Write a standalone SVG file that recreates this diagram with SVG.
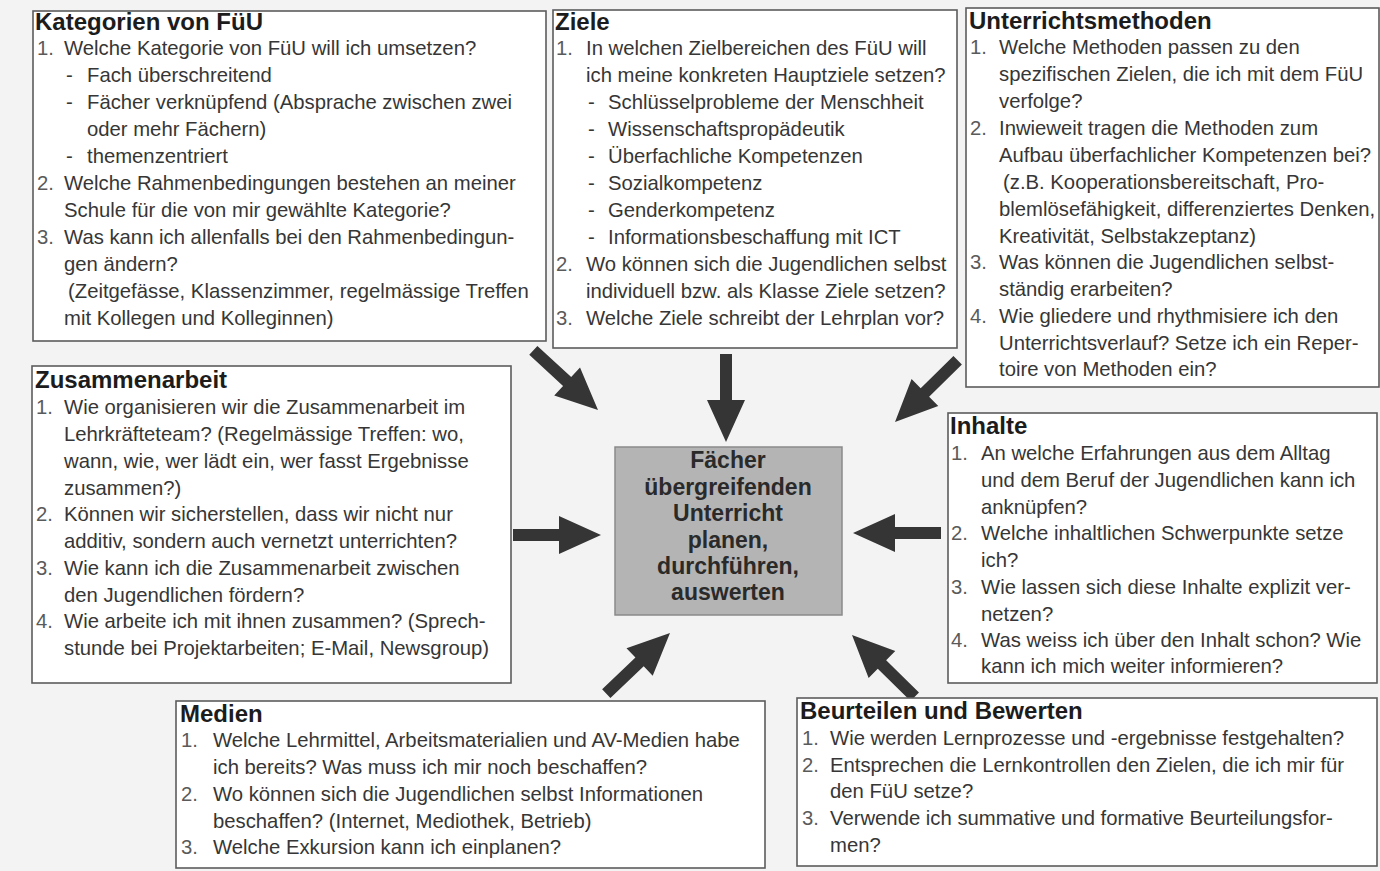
<svg xmlns="http://www.w3.org/2000/svg" width="1380" height="871" viewBox="0 0 1380 871">
  <style>
    text { font-family: "Liberation Sans", Arial, Helvetica, sans-serif; }
    .box { fill: #ffffff; stroke: #5c5c5c; stroke-width: 1.6; }
    .hub { fill: #b4b4b4; stroke: #8a8a8a; stroke-width: 1.5; }
    .h { font-size: 24px; font-weight: bold; fill: #1c1c1c; }
    .t { font-size: 20.3px; fill: #363636; }
    .n { font-size: 20.3px; fill: #5a5a5a; }
    .c { font-size: 23px; font-weight: bold; fill: #2a2a2a; text-anchor: middle; }
    .arrow { fill: #353535; }
  </style>
  <defs>
    <!-- block arrow pointing along +x, tip at the origin -->
    <path id="blockArrow" d="M -88 -6 L -42 -6 L -42 -19 L 0 0 L -42 19 L -42 6 L -88 6 Z"/>
  </defs>

  <rect x="0" y="0" width="1380" height="871" fill="#f3f3f3"/>

  <g id="connectors" class="arrow">
    <use href="#blockArrow" transform="translate(598 410) rotate(42.7)"/>
    <use href="#blockArrow" transform="translate(726 442) rotate(90)"/>
    <use href="#blockArrow" transform="translate(895 422) rotate(135.4)"/>
    <use href="#blockArrow" transform="translate(601 535)"/>
    <use href="#blockArrow" transform="translate(853 533) rotate(180)"/>
    <use href="#blockArrow" transform="translate(670 633) rotate(-43.6)"/>
    <use href="#blockArrow" transform="translate(852 635) rotate(-135.5)"/>
  </g>

  <g id="kategorien">
    <rect class="box" x="33" y="11" width="513" height="330"/>
    <text class="h" x="35" y="30">Kategorien von FüU</text>
    <text class="n" x="37" y="55">1.</text>
    <text class="t" x="64" y="55">Welche Kategorie von FüU will ich umsetzen?</text>
    <text class="t" x="66" y="82">-</text>
    <text class="t" x="87" y="82">Fach überschreitend</text>
    <text class="t" x="66" y="109">-</text>
    <text class="t" x="87" y="109">Fächer verknüpfend (Absprache zwischen zwei</text>
    <text class="t" x="87" y="136">oder mehr Fächern)</text>
    <text class="t" x="66" y="163">-</text>
    <text class="t" x="87" y="163">themenzentriert</text>
    <text class="n" x="37" y="190">2.</text>
    <text class="t" x="64" y="190">Welche Rahmenbedingungen bestehen an meiner</text>
    <text class="t" x="64" y="217">Schule für die von mir gewählte Kategorie?</text>
    <text class="n" x="37" y="244">3.</text>
    <text class="t" x="64" y="244">Was kann ich allenfalls bei den Rahmenbedingun-</text>
    <text class="t" x="64" y="271">gen ändern?</text>
    <text class="t" x="68" y="298">(Zeitgefässe, Klassenzimmer, regelmässige Treffen</text>
    <text class="t" x="64" y="325">mit Kollegen und Kolleginnen)</text>
  </g>

  <g id="ziele">
    <rect class="box" x="553" y="10" width="404" height="338"/>
    <text class="h" x="555" y="30">Ziele</text>
    <text class="n" x="556" y="55">1.</text>
    <text class="t" x="586" y="55">In welchen Zielbereichen des FüU will</text>
    <text class="t" x="586" y="82">ich meine konkreten Hauptziele setzen?</text>
    <text class="t" x="588" y="109">-</text>
    <text class="t" x="608" y="109">Schlüsselprobleme der Menschheit</text>
    <text class="t" x="588" y="136">-</text>
    <text class="t" x="608" y="136">Wissenschaftspropädeutik</text>
    <text class="t" x="588" y="163">-</text>
    <text class="t" x="608" y="163">Überfachliche Kompetenzen</text>
    <text class="t" x="588" y="190">-</text>
    <text class="t" x="608" y="190">Sozialkompetenz</text>
    <text class="t" x="588" y="217">-</text>
    <text class="t" x="608" y="217">Genderkompetenz</text>
    <text class="t" x="588" y="244">-</text>
    <text class="t" x="608" y="244">Informationsbeschaffung mit ICT</text>
    <text class="n" x="556" y="271">2.</text>
    <text class="t" x="586" y="271">Wo können sich die Jugendlichen selbst</text>
    <text class="t" x="586" y="298">individuell bzw. als Klasse Ziele setzen?</text>
    <text class="n" x="556" y="325">3.</text>
    <text class="t" x="586" y="325">Welche Ziele schreibt der Lehrplan vor?</text>
  </g>

  <g id="unterrichtsmethoden">
    <rect class="box" x="966" y="8" width="413" height="379"/>
    <text class="h" x="969" y="29">Unterrichtsmethoden</text>
    <text class="n" x="970" y="54">1.</text>
    <text class="t" x="999" y="54">Welche Methoden passen zu den</text>
    <text class="t" x="999" y="81">spezifischen Zielen, die ich mit dem FüU</text>
    <text class="t" x="999" y="108">verfolge?</text>
    <text class="n" x="970" y="135">2.</text>
    <text class="t" x="999" y="135">Inwieweit tragen die Methoden zum</text>
    <text class="t" x="999" y="162">Aufbau überfachlicher Kompetenzen bei?</text>
    <text class="t" x="1003" y="189">(z.B. Kooperationsbereitschaft, Pro-</text>
    <text class="t" x="999" y="216">blemlösefähigkeit, differenziertes Denken,</text>
    <text class="t" x="999" y="243">Kreativität, Selbstakzeptanz)</text>
    <text class="n" x="970" y="269">3.</text>
    <text class="t" x="999" y="269">Was können die Jugendlichen selbst-</text>
    <text class="t" x="999" y="296">ständig erarbeiten?</text>
    <text class="n" x="970" y="323">4.</text>
    <text class="t" x="999" y="323">Wie gliedere und rhythmisiere ich den</text>
    <text class="t" x="999" y="350">Unterrichtsverlauf? Setze ich ein Reper-</text>
    <text class="t" x="999" y="376">toire von Methoden ein?</text>
  </g>

  <g id="zusammenarbeit">
    <rect class="box" x="32" y="366" width="479" height="317"/>
    <text class="h" x="35" y="388">Zusammenarbeit</text>
    <text class="n" x="36" y="414">1.</text>
    <text class="t" x="64" y="414">Wie organisieren wir die Zusammenarbeit im</text>
    <text class="t" x="64" y="441">Lehrkräfteteam? (Regelmässige Treffen: wo,</text>
    <text class="t" x="64" y="468">wann, wie, wer lädt ein, wer fasst Ergebnisse</text>
    <text class="t" x="64" y="495">zusammen?)</text>
    <text class="n" x="36" y="521">2.</text>
    <text class="t" x="64" y="521">Können wir sicherstellen, dass wir nicht nur</text>
    <text class="t" x="64" y="548">additiv, sondern auch vernetzt unterrichten?</text>
    <text class="n" x="36" y="575">3.</text>
    <text class="t" x="64" y="575">Wie kann ich die Zusammenarbeit zwischen</text>
    <text class="t" x="64" y="602">den Jugendlichen fördern?</text>
    <text class="n" x="36" y="628">4.</text>
    <text class="t" x="64" y="628">Wie arbeite ich mit ihnen zusammen? (Sprech-</text>
    <text class="t" x="64" y="655">stunde bei Projektarbeiten; E-Mail, Newsgroup)</text>
  </g>

  <g id="zentrum">
    <rect class="hub" x="615" y="447" width="227" height="168"/>
    <text class="c" x="728" y="468">Fächer</text>
    <text class="c" x="728" y="495">übergreifenden</text>
    <text class="c" x="728" y="521">Unterricht</text>
    <text class="c" x="728" y="548">planen,</text>
    <text class="c" x="728" y="574">durchführen,</text>
    <text class="c" x="728" y="600">auswerten</text>
  </g>

  <g id="inhalte">
    <rect class="box" x="948" y="413" width="429" height="270"/>
    <text class="h" x="950" y="434">Inhalte</text>
    <text class="n" x="951" y="460">1.</text>
    <text class="t" x="981" y="460">An welche Erfahrungen aus dem Alltag</text>
    <text class="t" x="981" y="487">und dem Beruf der Jugendlichen kann ich</text>
    <text class="t" x="981" y="514">anknüpfen?</text>
    <text class="n" x="951" y="540">2.</text>
    <text class="t" x="981" y="540">Welche inhaltlichen Schwerpunkte setze</text>
    <text class="t" x="981" y="567">ich?</text>
    <text class="n" x="951" y="594">3.</text>
    <text class="t" x="981" y="594">Wie lassen sich diese Inhalte explizit ver-</text>
    <text class="t" x="981" y="621">netzen?</text>
    <text class="n" x="951" y="647">4.</text>
    <text class="t" x="981" y="647">Was weiss ich über den Inhalt schon? Wie</text>
    <text class="t" x="981" y="673">kann ich mich weiter informieren?</text>
  </g>

  <g id="medien">
    <rect class="box" x="176" y="701" width="589" height="167"/>
    <text class="h" x="180" y="722">Medien</text>
    <text class="n" x="181" y="747">1.</text>
    <text class="t" x="213" y="747">Welche Lehrmittel, Arbeitsmaterialien und AV-Medien habe</text>
    <text class="t" x="213" y="774">ich bereits? Was muss ich mir noch beschaffen?</text>
    <text class="n" x="181" y="801">2.</text>
    <text class="t" x="213" y="801">Wo können sich die Jugendlichen selbst Informationen</text>
    <text class="t" x="213" y="828">beschaffen? (Internet, Mediothek, Betrieb)</text>
    <text class="n" x="181" y="854">3.</text>
    <text class="t" x="213" y="854">Welche Exkursion kann ich einplanen?</text>
  </g>

  <g id="beurteilen">
    <rect class="box" x="797" y="698" width="580" height="168"/>
    <text class="h" x="800" y="719">Beurteilen und Bewerten</text>
    <text class="n" x="802" y="745">1.</text>
    <text class="t" x="830" y="745">Wie werden Lernprozesse und -ergebnisse festgehalten?</text>
    <text class="n" x="802" y="772">2.</text>
    <text class="t" x="830" y="772">Entsprechen die Lernkontrollen den Zielen, die ich mir für</text>
    <text class="t" x="830" y="798">den FüU setze?</text>
    <text class="n" x="802" y="825">3.</text>
    <text class="t" x="830" y="825">Verwende ich summative und formative Beurteilungsfor-</text>
    <text class="t" x="830" y="852">men?</text>
  </g>
</svg>
